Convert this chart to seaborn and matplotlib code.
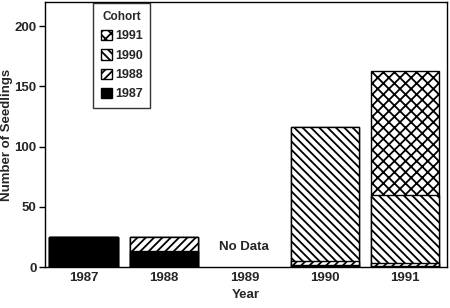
import matplotlib
matplotlib.use("Agg")
import matplotlib.pyplot as plt
import seaborn as sns
import numpy as np
import pandas as pd
from matplotlib.patches import Patch

years = ["1987", "1988", "1989", "1990", "1991"]
cohort_1987 = [25, 13, np.nan, 2, 1]
cohort_1988 = [0, 12, np.nan, 3, 2]
cohort_1990 = [0, 0, np.nan, 111, 57]
cohort_1991 = [0, 0, np.nan, 0, 103]
cohort_names = ["1991", "1990", "1988", "1987"]
hatches = {"1991": "xxx", "1990": "\\\\\\\\", "1988": "////", "1987": None}

sns.set_style("ticks")
plt.rcParams['font.family'] = ['Liberation Sans', 'DejaVu Sans']
plt.rcParams['font.weight'] = 'bold'
plt.rcParams['axes.labelweight'] = 'bold'
plt.rcParams['hatch.linewidth'] = 1.3

fig, ax = plt.subplots(figsize=(4.5, 3.08), dpi=100)

c87 = np.array(cohort_1987, dtype=float)
c88 = np.array(cohort_1988, dtype=float)
c90 = np.array(cohort_1990, dtype=float)
c91 = np.array(cohort_1991, dtype=float)
cum = {
    "1991": c87 + c88 + c90 + c91,
    "1990": c87 + c88 + c90,
    "1988": c87 + c88,
    "1987": c87,
}
for name in cohort_names:
    df = pd.DataFrame({"Year": years, "N": cum[name]})
    face = "black" if name == "1987" else "white"
    sns.barplot(data=df, x="Year", y="N", order=years, ax=ax, color=face,
                width=0.85, edgecolor="black", linewidth=1.0,
                hatch=hatches[name], saturation=1, errorbar=None)

ax.text(2, 17, "No Data", ha="center", va="center", fontsize=9.5)

ax.set_xlim(-0.48, 4.52)
ax.set_ylim(0, 220)
ax.set_yticks([0, 50, 100, 150, 200])
ax.set_xlabel("Year", fontsize=9.5, labelpad=3.5)
ax.set_ylabel("Number of Seedlings", fontsize=9.5)
ax.yaxis.set_label_coords(-0.08, 0.5)
ax.tick_params(axis="y", labelsize=9.5, length=4.5, width=1.0, color="black", pad=1.5)
ax.tick_params(axis="x", labelsize=9.5, length=0, pad=3.5)
for s in ax.spines.values():
    s.set_visible(True)
    s.set_color("black")
    s.set_linewidth(1.0)

handles = [Patch(facecolor=("black" if n == "1987" else "white"), edgecolor="black",
                 hatch=hatches[n], label=n) for n in cohort_names]
leg = ax.legend(handles=handles, title="Cohort", loc="upper left",
                bbox_to_anchor=(0.12, 0.995), borderaxespad=0,
                prop={"size": 9, "weight": "bold"}, title_fontproperties={"size": 8.5, "weight": "bold"},
                handlelength=0.9, handleheight=0.9, handletextpad=0.25,
                frameon=True, fancybox=False, edgecolor="black",
                borderpad=0.6, labelspacing=0.55)
leg.get_frame().set_linewidth(1.0)

fig.subplots_adjust(left=0.10, right=0.993, top=0.993, bottom=0.133)
fig.savefig("out.png", dpi=100)
